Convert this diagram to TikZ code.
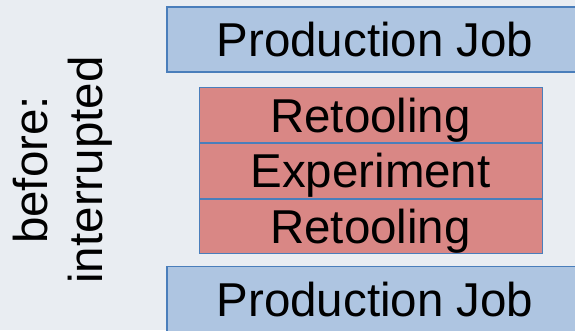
\documentclass[tikz,border=0pt]{standalone}
\usepackage{fontspec}
\setmainfont{Liberation Sans}
\usetikzlibrary{positioning}
\definecolor{bgcol}{RGB}{233,237,242}
\definecolor{jobfill}{RGB}{174,197,225}
\definecolor{taskfill}{RGB}{217,135,133}
\definecolor{edge}{RGB}{74,126,187}
\tikzset{
  bigtext/.style={font=\fontsize{47.5}{55}\selectfont, text height=34pt, text depth=0pt},
  jobbox/.style={bigtext, draw=edge, line width=1.1pt, fill=jobfill,
    minimum width=416pt, minimum height=65pt, inner sep=0pt},
  taskbox/.style={bigtext, draw=edge, line width=1pt, fill=taskfill,
    minimum width=343pt, minimum height=54.7pt, inner sep=0pt}
}
\begin{document}
\begin{tikzpicture}[x=1pt,y=1pt]
  \useasboundingbox (0,0) rectangle (575,330);
  \fill[bgcol] (0,0) rectangle (575,330);
  \clip (0,0) rectangle (575,330);

  % production jobs above and below
  \node[jobbox] (jobtop) at (375,290.5) {Production Job};
  \node[jobbox] (jobbot) at (375,31) {Production Job};

  % interrupting block: retooling, experiment, retooling
  \node[taskbox] (retool1) at (370.5,215) {Retooling};
  \node[taskbox, below=0pt of retool1] (exper) {Experiment};
  \node[taskbox, below=0pt of exper] (retool2) {Retooling};

  % side label
  \node[rotate=90, align=center, inner sep=0pt,
        font=\fontsize{47.5}{55}\selectfont] (label) at (63,160)
        {before:\\interrupted};
\end{tikzpicture}
\end{document}
